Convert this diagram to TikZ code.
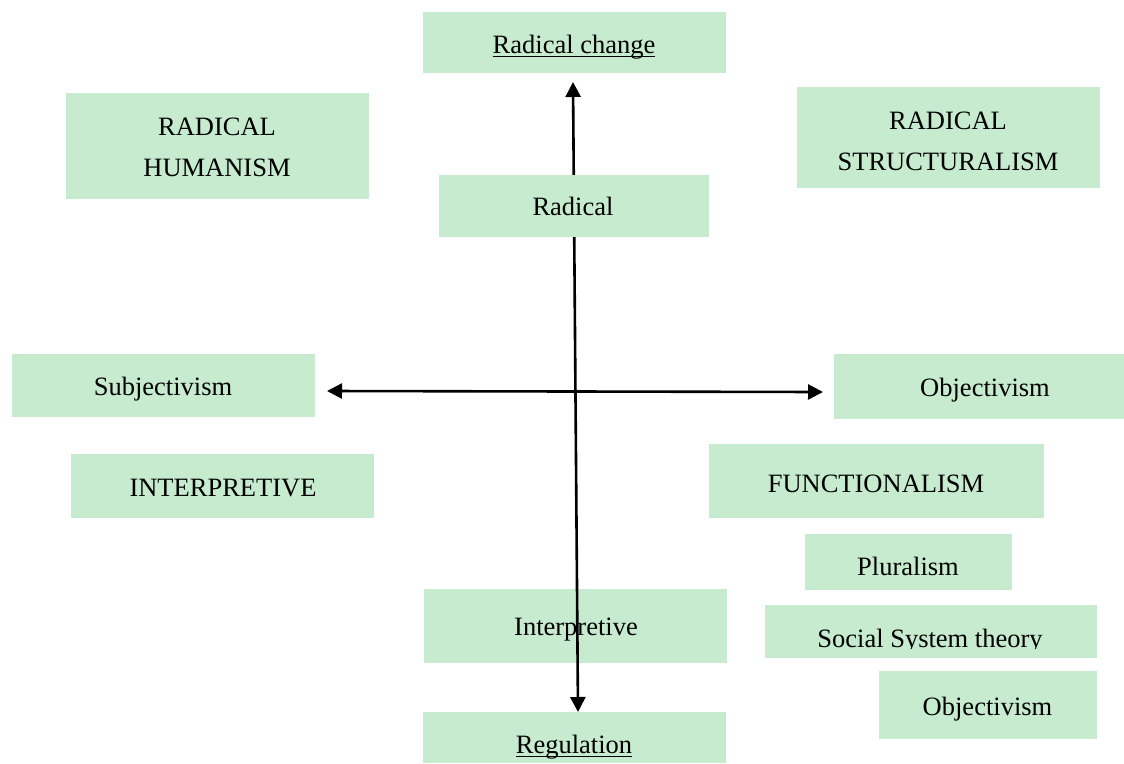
\documentclass[tikz,border=0pt]{standalone}
\usepackage{fontspec}
\setmainfont{Liberation Serif}
\usetikzlibrary{arrows.meta}
\definecolor{boxgreen}{RGB}{198,235,206}
\newcommand{\ulword}[1]{{\setbox0\hbox{#1}\rlap{\rule[-4.3pt]{\wd0}{1.4pt}}\box0}}
\tikzset{
  box/.style={fill=boxgreen, draw=none, inner sep=0pt},
  lbl/.style={anchor=base, inner sep=0pt, text=black, align=center,
    font=\fontsize{26.5}{41}\selectfont},
  axis/.style={line width=2.6pt, {Triangle[length=15pt,width=15pt]}-{Triangle[length=15pt,width=15pt]}}
}
\newcommand{\boxat}[5]{% name, x1, y1, x2, y2
  \path[box] (#2,#3) rectangle (#4,#5);
  \coordinate (#1) at ({(#2+#4)/2},{(#3+#5)/2});}
\begin{document}
\begin{tikzpicture}[x=1pt,y=-1pt]
\useasboundingbox (0,0) rectangle (1124,763);
\fill[white] (0,0) rectangle (1124,763);

% boxes drawn under the axis
\boxat{rc}{423}{12}{726}{73}
\boxat{rh}{66}{93}{369}{199}
\boxat{rs}{797}{87}{1100}{188}
\boxat{subj}{12}{354}{315}{417}
\boxat{obj}{834}{354}{1124}{419}
\boxat{intp}{71}{454}{374}{518}
\boxat{func}{709}{444}{1044}{518}
\boxat{plur}{805}{534}{1012}{590}
\boxat{sst}{765}{605}{1097}{658}
\boxat{obj2}{879}{671}{1097}{739}
\boxat{interp}{424}{589}{727}{663}
\boxat{reg}{423}{712}{726}{763}

% axis end points
\coordinate (tipN) at (573,82);
\coordinate (tipS) at (578,712);
\coordinate (tipW) at (327,391);
\coordinate (tipE) at (823,392);
\draw[axis] (tipN) -- (tipS);
\draw[axis] (tipW) -- (tipE);

% Radical box lies over the axis
\boxat{rad}{439}{175}{709}{237}

% texts
\node[lbl] (rc-t) at (574,53) {\ulword{Radical change}};
\node[lbl] (rad-t) at (573,215) {Radical};
\node[lbl] (rh-t) at (217,176) {RADICAL\\HUMANISM};
\node[lbl] (rs-t) at (948,170) {RADICAL\\STRUCTURALISM};
\node[lbl] (subj-t) at (163,395) {Subjectivism};
\node[lbl] (obj-t) at (985,396) {Objectivism};
\node[lbl] (intp-t) at (223,496) {INTERPRETIVE};
\node[lbl] (func-t) at (876,492) {FUNCTIONALISM};
\node[lbl] (plur-t) at (908,575) {Pluralism};
\begin{scope}
  \clip (765,605) rectangle (1097,648.5);
  \node[lbl] (sst-t) at (930,647) {Social System theory};
\end{scope}
\node[lbl] (obj2-t) at (987.5,715) {Objectivism};
\node[lbl] (interp-t) at (576,635) {Interpretive};
\node[lbl] (reg-t) at (574,753) {\ulword{Regulation}};
\end{tikzpicture}
\end{document}
